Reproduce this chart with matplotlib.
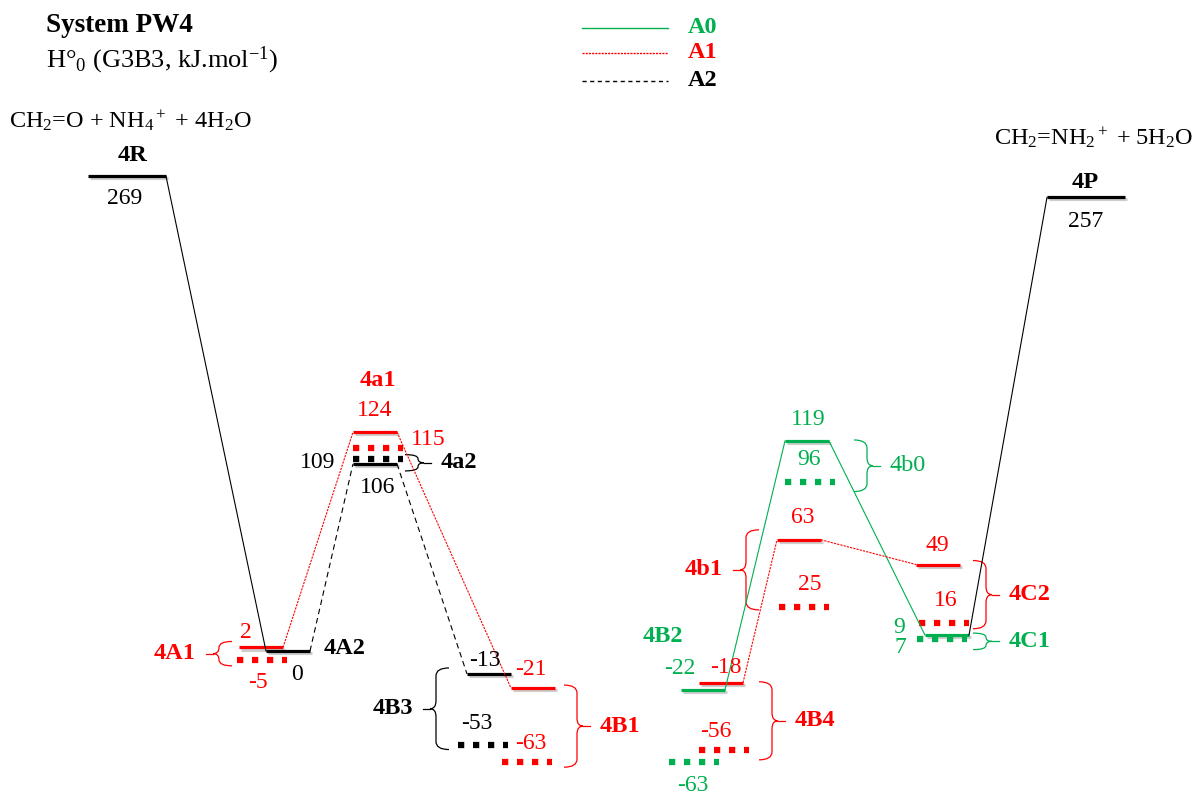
import matplotlib

matplotlib.use("Agg")
import matplotlib.pyplot as plt
import matplotlib.patheffects as pe
from matplotlib.path import Path
from matplotlib.patches import PathPatch

# H°0 (G3B3), kJ/mol
REACTANT = 269   # 4R
PRODUCT = 257    # 4P
A0_SOLID = [-22, 119, 9]
A0_DOTTED = [-63, 96, 7]
A1_SOLID = [2, 124, -21, -18, 63, 49]
A1_DOTTED = [-5, 115, -63, -56, 25, 16]
A2_SOLID = [0, 106, -13]
A2_DOTTED = [109, -53]
SERIES = ["A0", "A1", "A2"]

GREEN, RED, BLACK = "#00B050", "#FF0000", "black"
K = 1.765    # px per kJ/mol
Y0 = 651     # px row of 0 kJ/mol
W_SOLID, W_DOT = 44, 50

# left edge (px), label dx, dy (px, dy>0 is up) for every level
A0_SOLID_POS = [(681, -23, 21), (785, 1, 21), (925, -48, 8)]
A0_DOTTED_POS = [(669, -1, -23), (785, -1, 22), (917, -42, -9)]
A1_SOLID_POS = [(239, -15, 15), (353, 0, 22), (511, -2, 19), (699, 5, 15),
                (777, 4, 22), (916, -1, 19)]
A1_DOTTED_POS = [(237, -4, -23), (353, 50, 9), (502, 4, 19), (699, -8, 18),
                 (779, 6, 22), (919, 2, 22)]
A2_SOLID_POS = [(266, 9, -24), (353, 3, -24), (467, -4, 13)]
A2_DOTTED_POS = [(353, -60, -4), (458, -6, 21)]

plt.rcParams["font.family"] = ["Liberation Serif", "DejaVu Serif"]
plt.rcParams["mathtext.fontset"] = "custom"
plt.rcParams["mathtext.rm"] = "Liberation Serif"
plt.rcParams["mathtext.it"] = "Liberation Serif:italic"
plt.rcParams["mathtext.bf"] = "Liberation Serif:bold"

NUM_FS = 17
LAB_FS = 17.5


def py2e(py):
    return (Y0 - py) / K


fig = plt.figure(figsize=(11.95, 7.98), dpi=100)
ax = fig.add_axes([0, 0, 1, 1])
ax.set_xlim(0, 1195)
ax.set_ylim(py2e(798), py2e(0))
ax.axis("off")

shadow = [pe.SimpleLineShadow(offset=(1.5, -1.5), shadow_color="0.45", alpha=0.35),
          pe.Normal()]


def level(x0, e, color, dotted, w=None):
    if dotted:
        w = w or W_DOT
        ax.plot([x0, x0 + w], [e, e], color=color, lw=4.5,
                dashes=(1.0, 1.4), solid_capstyle="butt", dash_capstyle="butt")
    else:
        w = w or W_SOLID
        ax.plot([x0, x0 + w], [e, e], color=color, lw=2.3,
                solid_capstyle="butt", path_effects=shadow)
    return x0, x0 + w


def draw_set(values, pos, color, dotted):
    ends = []
    for e, (x0, dx, dy) in zip(values, pos):
        xa, xb = level(x0, e, color, dotted)
        ax.text((xa + xb) / 2 + dx, e + dy / K, f"{e}", color=color,
                fontsize=NUM_FS, ha="center", va="center")
        ends.append((xa, xb, e))
    return ends


g_s = draw_set(A0_SOLID, A0_SOLID_POS, GREEN, False)
g_d = draw_set(A0_DOTTED, A0_DOTTED_POS, GREEN, True)
r_s = draw_set(A1_SOLID, A1_SOLID_POS, RED, False)
r_d = draw_set(A1_DOTTED, A1_DOTTED_POS, RED, True)
k_s = draw_set(A2_SOLID, A2_SOLID_POS, BLACK, False)
k_d = draw_set(A2_DOTTED, A2_DOTTED_POS, BLACK, True)

# reactant / product
rx0, rx1 = level(88, REACTANT, BLACK, False, w=78)
px0, px1 = level(1047, PRODUCT, BLACK, False, w=78)
ax.text(125, REACTANT - 22 / K, f"{REACTANT}", fontsize=NUM_FS, ha="center", va="center")
ax.text(1086, PRODUCT - 24 / K, f"{PRODUCT}", fontsize=NUM_FS, ha="center", va="center")
ax.text(133, py2e(155), "4R", fontsize=LAB_FS, weight="bold", ha="center", va="center")
ax.text(1085, py2e(183), "4P", fontsize=LAB_FS, weight="bold", ha="center", va="center")
ax.text(130, py2e(121), r"CH$_2$=O + NH$_4$$^+$ + 4H$_2$O", fontsize=17.5,
        ha="center", va="center")
ax.text(1094, py2e(138), r"CH$_2$=NH$_2$$^+$ + 5H$_2$O", fontsize=17.5,
        ha="center", va="center")


def link(a, b, color, style):
    kw = dict(color=color, lw=0.8)
    if style == "dot":
        kw["dashes"] = (2, 1)
    elif style == "dash":
        kw["dashes"] = (5, 3.5)
    ax.plot([a[1], b[0]], [a[2], b[2]], **kw)


link((rx0, rx1, REACTANT), k_s[0], BLACK, "solid")
link(g_s[2], (px0, px1, PRODUCT), BLACK, "solid")
link(g_s[0], g_s[1], GREEN, "solid")
link(g_s[1], g_s[2], GREEN, "solid")
for i, j in [(0, 1), (1, 2), (3, 4), (4, 5)]:
    link(r_s[i], r_s[j], RED, "dot")
link(k_s[0], k_s[1], BLACK, "dash")
link(k_s[1], k_s[2], BLACK, "dash")


def brace(xs, e_top, e_bot, pad, side, color, label, bold=True,
          arm=13, tip=6, tick=7, gap=10):
    yt = Y0 - K * e_top - pad[0]
    yb = Y0 - K * e_bot + pad[1]
    r = min(8, (yb - yt) / 4)
    ym = (yt + yb) / 2
    pts = [(xs - side * arm, yt), (xs, yt), (xs, yt + r),
           (xs, ym - r), (xs, ym), (xs + side * tip, ym),
           (xs, ym), (xs, ym + r),
           (xs, yb - r), (xs, yb), (xs - side * arm, yb)]
    codes = [Path.MOVETO, Path.CURVE3, Path.CURVE3, Path.LINETO, Path.CURVE3,
             Path.CURVE3, Path.CURVE3, Path.CURVE3, Path.LINETO, Path.CURVE3,
             Path.CURVE3]
    verts = [(x, py2e(y)) for x, y in pts]
    ax.add_patch(PathPatch(Path(verts, codes), fill=False, edgecolor=color, lw=0.9))
    xe = xs + side * (tip + tick)
    ax.plot([xs + side * tip, xe], [py2e(ym), py2e(ym)], color=color, lw=0.9)
    ax.text(xe + side * gap, py2e(ym), label, color=color, fontsize=LAB_FS,
            weight="bold" if bold else "normal",
            ha="left" if side > 0 else "right", va="center")


brace(219, A1_SOLID[0], A1_DOTTED[0], (6, 6), -1, RED, "4A1")
brace(418, A2_DOTTED[0], A2_SOLID[1], (4, 7), 1, BLACK, "4a2")
brace(436, A2_SOLID[2], A2_DOTTED[1], (6, 5), -1, BLACK, "4B3")
brace(577, A1_SOLID[2], A1_DOTTED[2], (3, 5), 1, RED, "4B1")
brace(772, A1_SOLID[3], A1_DOTTED[3], (1, 10), 1, RED, "4B4")
brace(746, A1_SOLID[4], A1_DOTTED[4], (10, 3), -1, RED, "4b1")
brace(867, A0_SOLID[1], A0_DOTTED[1], (1, 10), 1, GREEN, "4b0", bold=False)
brace(986, A1_SOLID[5], A1_DOTTED[5], (4, 6), 1, RED, "4C2")
brace(986, A0_SOLID[2], A0_DOTTED[2], (2, 11), 1, GREEN, "4C1")

# state labels not tied to braces
ax.text(378, py2e(380), "4a1", color=RED, fontsize=LAB_FS, weight="bold",
        ha="center", va="center")
ax.text(345, py2e(649), "4A2", color=BLACK, fontsize=LAB_FS, weight="bold",
        ha="center", va="center")
ax.text(663, py2e(636), "4B2", color=GREEN, fontsize=LAB_FS, weight="bold",
        ha="center", va="center")

# titles
ax.text(46, py2e(25), "System PW4", fontsize=19.5, weight="bold", ha="left", va="center")
ax.text(46, py2e(60), r"H°$_0$ (G3B3, kJ.mol$^{-1}$)", fontsize=19,
        ha="left", va="center")

# legend
for name, color, style, py in zip(SERIES, [GREEN, RED, BLACK],
                                  ["solid", "dot", "dash"], [28, 53, 81]):
    kw = dict(color=color, lw=1.0)
    if style == "dot":
        kw["dashes"] = (1.5, 0.8)
    elif style == "dash":
        kw["dashes"] = (3, 2.5)
    ax.plot([582, 668], [py2e(py), py2e(py)], **kw)
    ax.text(688, py2e(py - 1), name, color=color, fontsize=17.5, weight="bold",
            ha="left", va="center")

fig.savefig("out.png", dpi=100)
